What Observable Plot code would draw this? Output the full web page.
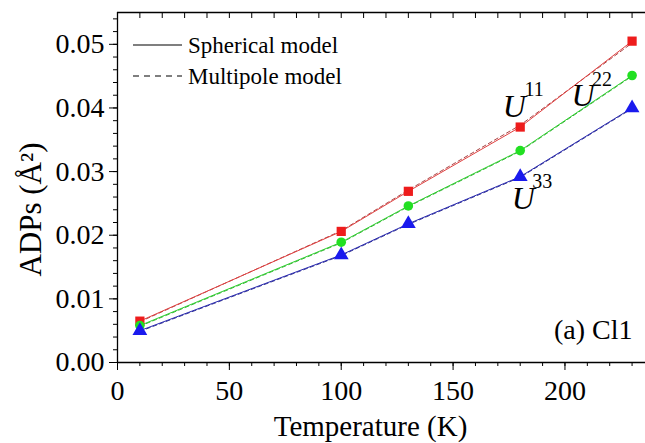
<!DOCTYPE html>
<html>
<head>
<meta charset="utf-8">
<script src="https://cdn.jsdelivr.net/npm/d3@7"></script>
<script src="https://cdn.jsdelivr.net/npm/@observablehq/plot@0.6"></script>
<style>
  html, body { margin: 0; padding: 0; background: #fff; }
</style>
</head>
<body>
<div id="chart"></div>
<script>
const temps = [10, 100, 130, 180, 230];
const u11Sph = [0.0065, 0.0206, 0.0269, 0.0370, 0.0505];
const u22Sph = [0.0058, 0.0189, 0.0246, 0.0333, 0.0451];
const u33Sph = [0.0050, 0.0169, 0.0218, 0.0292, 0.0400];
const u11Mul = [0.0064, 0.0207, 0.0271, 0.0373, 0.0502];
const u22Mul = [0.0057, 0.0188, 0.0245, 0.0332, 0.0450];
const u33Mul = [0.0049, 0.0168, 0.0217, 0.0291, 0.0399];
const xMajor = [0, 50, 100, 150, 200];
const xMinor = d3.range(0, 236, 10);
const yMajor = [0, 0.01, 0.02, 0.03, 0.04, 0.05];
const yMinor = d3.range(0, 0.0551, 0.002);
const legendLabels = ["Spherical model", "Multipole model"];

const red = "#ee1c1c", green = "#22e022", blue = "#1a1aee";
const fs = 28;
const serif = "'Liberation Serif', 'Times New Roman', serif";

const plot = Plot.plot({
  width: 645,
  height: 443,
  marginLeft: 117,
  marginRight: 0,
  marginTop: 12,
  marginBottom: 81,
  style: {fontFamily: serif, background: "#fff", color: "#000"},
  x: {domain: [0, 236]},
  y: {domain: [0, 0.055]},
  marks: [
    Plot.axisX({ticks: xMajor, tickSize: 8, tickPadding: 10, fontSize: fs, label: null, tickFormat: d => d}),
    Plot.axisX({ticks: xMinor, tickSize: 4, tickFormat: () => "", label: null}),
    Plot.axisX({anchor: "top", ticks: xMinor, tickSize: -5, tickFormat: () => "", label: null}),
    Plot.axisY({ticks: yMajor, tickSize: 8, tickPadding: 5, fontSize: fs, label: null, tickFormat: d3.format(".2f")}),
    Plot.axisY({ticks: yMinor, tickSize: 4, tickFormat: () => "", label: null}),
    Plot.ruleX([0], {stroke: "#000", strokeWidth: 1.3}),
    Plot.ruleY([0], {stroke: "#000", strokeWidth: 1.3}),
    Plot.ruleY([0.055], {stroke: "#000", strokeWidth: 1.3}),
    // multipole (dashed)
    Plot.line(temps, {x: temps, y: u11Mul, stroke: "#a03030", strokeWidth: 0.9, strokeDasharray: "4,3"}),
    Plot.line(temps, {x: temps, y: u22Mul, stroke: "#20a020", strokeWidth: 0.9, strokeDasharray: "4,3"}),
    Plot.line(temps, {x: temps, y: u33Mul, stroke: "#202080", strokeWidth: 0.9, strokeDasharray: "4,3"}),
    // spherical (solid)
    Plot.line(temps, {x: temps, y: u11Sph, stroke: "#e04040", strokeWidth: 1}),
    Plot.line(temps, {x: temps, y: u22Sph, stroke: "#30d030", strokeWidth: 1}),
    Plot.line(temps, {x: temps, y: u33Sph, stroke: "#2a2ab0", strokeWidth: 1}),
    Plot.dot(temps, {x: temps, y: u11Sph, symbol: "square", fill: red, r: 5.2}),
    Plot.dot(temps, {x: temps, y: u22Sph, symbol: "circle", fill: green, r: 4.8}),
    Plot.dot(temps, {x: temps, y: u33Sph, symbol: "triangle", fill: blue, r: 5.5}),
    // series labels
    Plot.text([3], {x: i => temps[i], y: i => u11Sph[i], text: () => "U", fontStyle: "italic", fontSize: 32, dx: -6, dy: -20}),
    Plot.text([3], {x: i => temps[i], y: i => u11Sph[i], text: () => "11", fontSize: 20, dx: 14, dy: -37}),
    Plot.text([4], {x: i => temps[i], y: i => u22Sph[i], text: () => "U", fontStyle: "italic", fontSize: 32, dx: -49, dy: 20}),
    Plot.text([4], {x: i => temps[i], y: i => u22Sph[i], text: () => "22", fontSize: 20, dx: -30, dy: 4}),
    Plot.text([3], {x: i => temps[i], y: i => u33Sph[i], text: () => "U", fontStyle: "italic", fontSize: 32, dx: 3, dy: 22}),
    Plot.text([3], {x: i => temps[i], y: i => u33Sph[i], text: () => "33", fontSize: 20, dx: 22, dy: 5}),
    // panel label
    Plot.text(["(a) Cl1"], {text: d => d, frameAnchor: "bottom-right", textAnchor: "end", lineAnchor: "middle", dx: -13, dy: -32, fontSize: 28}),
    // axis titles
    Plot.text(["Temperature (K)"], {text: d => d, frameAnchor: "bottom", lineAnchor: "middle", dx: -11, dy: 64, fontSize: 29}),
    Plot.text(["ADPs (Å²)"], {text: d => d, frameAnchor: "left", lineAnchor: "middle", textAnchor: "middle", rotate: -90, dx: -86, dy: 22, fontSize: 31})
  ]
});

// legend inside the plot
const svg = d3.select(plot);
const lg = svg.append("g").attr("fill", "#000").attr("text-anchor", "start");
legendLabels.forEach((lab, i) => {
  const y = 45 + i * 31;
  lg.append("line").attr("x1", 133).attr("x2", 182).attr("y1", y).attr("y2", y)
    .attr("stroke", "#000").attr("stroke-width", 1.2)
    .attr("stroke-dasharray", i === 1 ? "6,5" : null);
  lg.append("text").attr("x", 188).attr("y", y).attr("dy", "0.33em")
    .attr("text-anchor", "start").style("font-size", "23px").text(lab);
});

document.getElementById("chart").appendChild(plot);
</script>
</body>
</html>
